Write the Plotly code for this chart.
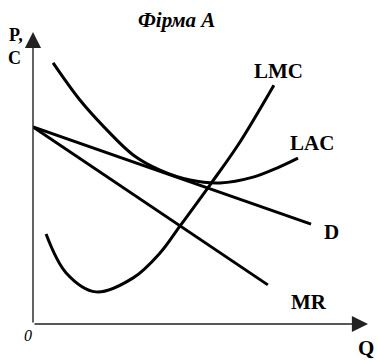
import plotly.graph_objects as go

# Data (economic units: Q horizontal, P/C vertical)
d_q = [0.0, 8.30]
d_p = [6.75, 3.42]

mr_q = [0.0, 7.01]
mr_p = [6.75, 1.34]

lac_q = [0.60, 1.40, 2.21, 2.99, 3.79, 4.69, 5.58, 6.57, 7.28, 7.91]
lac_c = [8.94, 7.67, 6.64, 5.79, 5.27, 4.93, 4.83, 5.03, 5.34, 5.68]

lmc_q = [0.39, 0.99, 1.88, 2.99, 3.79, 4.39, 5.28, 6.12, 7.19]
lmc_c = [3.08, 1.75, 1.10, 1.58, 2.43, 3.36, 4.76, 6.13, 8.18]

x_max = 10.0
y_max = 10.0

fig = go.Figure()
line_style = dict(color="black", width=3)
spline_style = dict(color="black", width=3, shape="spline", smoothing=1.0)
fig.add_trace(go.Scatter(x=d_q, y=d_p, mode="lines", line=line_style, name="D"))
fig.add_trace(go.Scatter(x=mr_q, y=mr_p, mode="lines", line=line_style, name="MR"))
fig.add_trace(go.Scatter(x=lac_q, y=lac_c, mode="lines", line=spline_style, name="LAC"))
fig.add_trace(go.Scatter(x=lmc_q, y=lmc_c, mode="lines", line=spline_style, name="LMC"))

serif = "Liberation Serif, Times New Roman, serif"
annos = []
# axes with arrows
for (x, y) in [(x_max, 0), (0, y_max)]:
    annos.append(dict(x=x, y=y, ax=0, ay=0, xref="x", yref="y", axref="x", ayref="y",
                      text="", showarrow=True, arrowhead=2, arrowsize=2.3, arrowwidth=1.4,
                      arrowcolor="#222", standoff=0))

def lab(text, x, y, size=21, xanchor="center", italic=False, bold=True):
    t = text
    if bold:
        t = "<b>" + t + "</b>"
    if italic:
        t = "<i>" + t + "</i>"
    annos.append(dict(x=x / x_max, y=y / y_max, xref="paper", yref="paper", text=t,
                      showarrow=False, xanchor=xanchor, yanchor="middle",
                      font=dict(family=serif, size=size, color="black")))

lab("Фірма А", 4.27, 10.41, size=21, italic=True)
lab("P,", -0.51, 9.90, size=18)
lab("C", -0.54, 9.11, size=18)
lab("LMC", 7.34, 8.66)
lab("LAC", 8.33, 6.20)
lab("D", 8.90, 3.15)
lab("MR", 8.24, 0.75)
lab("0", -0.15, -0.41, size=16, italic=True, bold=False)
lab("Q", 10.24, -0.82, xanchor="right")

fig.update_layout(
    width=378, height=361,
    margin=dict(l=33, r=10, t=32, b=37),
    paper_bgcolor="white", plot_bgcolor="white",
    showlegend=False,
    annotations=annos,
    xaxis=dict(range=[0, x_max], visible=False, fixedrange=True),
    yaxis=dict(range=[0, y_max], visible=False, fixedrange=True),
)
fig.write_html("out.html", config={"displayModeBar": False},
               post_script="document.body.style.margin='0';document.body.style.overflow='hidden';")
